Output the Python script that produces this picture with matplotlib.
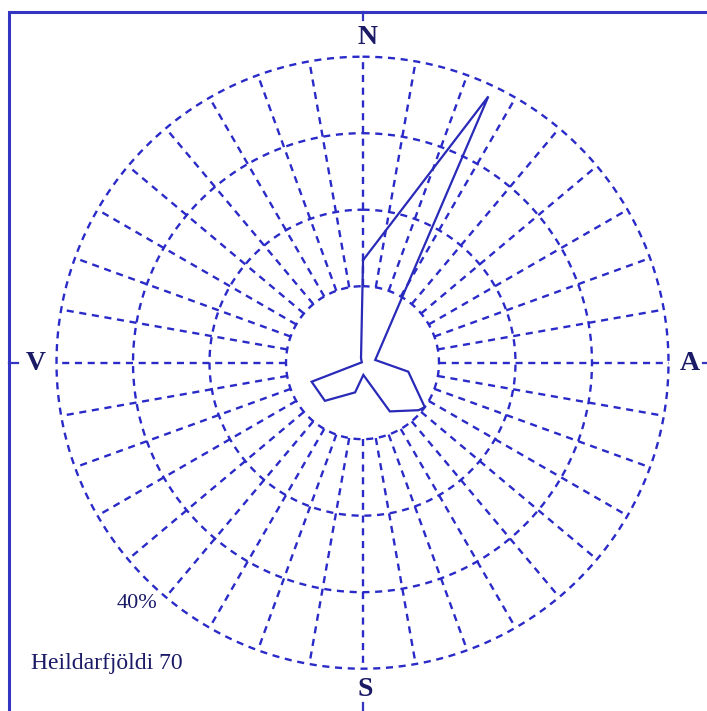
import numpy as np
import matplotlib
matplotlib.use("Agg")
import matplotlib.pyplot as plt
from matplotlib.patches import Rectangle
from matplotlib.lines import Line2D

# rose polygon: direction (deg from north, clockwise) and percent
rose_dir = [0.3, 25.3, 77.8, 101.1, 125.5, 130.3, 150.7, 176.0, 194.0, 224.6, 249.5, 300.0, 341.0]
rose_pct = [13.4, 38.5, 1.7, 6.1, 10.0, 9.6, 7.3, 1.6, 4.0, 7.0, 7.1, 0.1, 0.6]

rings = [10, 20, 30, 40]
spoke_step = 10
compass = ["N", "A", "S", "V"]
total_label = "Heildarfjöldi 70"
ring_label = "40%"

W, H = 707, 711
cx, cy, R = 362.5, 362.7, 306.0  # centre and outer ring in pixels

grid_col = "#2a2ac8"
line_col = "#2a2ab8"
text_col = "#1a1a66"


def fx(px):
    return px / W


def fy(py):
    return 1 - py / H


fig = plt.figure(figsize=(W / 100, H / 100), dpi=100)
fig.patch.set_facecolor("white")

ax = fig.add_axes([fx(cx - R), fy(cy + R), 2 * R / W, 2 * R / H], projection="polar")
ax.set_theta_zero_location("N")
ax.set_theta_direction(-1)
ax.set_axis_off()
ax.set_rlim(0, rings[-1])

dash = (0, (3, 2.4))
theta = np.linspace(0, 2 * np.pi, 721)
for r in rings:
    ax.plot(theta, np.full_like(theta, r), color=grid_col, lw=1.7, ls=dash, clip_on=False)
for a in range(0, 360, spoke_step):
    t = np.deg2rad(a)
    ax.plot([t, t], [rings[0], rings[-1]], color=grid_col, lw=1.7, ls=dash, clip_on=False)

# the rose itself
t = np.deg2rad(rose_dir + rose_dir[:1])
ax.plot(t, rose_pct + rose_pct[:1], color=line_col, lw=1.6, solid_joinstyle="miter", clip_on=False)

# frame with small ticks at the middle of each side
frame_col = "#3535c4"
fig.patches.append(Rectangle((fx(9), fy(716)), fx(713) - fx(9), fy(12) - fy(716),
                             transform=fig.transFigure, fill=False, ec=frame_col, lw=2.2))
for (x0, y0, x1, y1) in [(9, cy, 18, cy), (cx, 12, cx, 20), (703, cy, 713, cy), (cx, 703, cx, 716)]:
    fig.lines.append(Line2D([fx(x0), fx(x1)], [fy(y0), fy(y1)], transform=fig.transFigure,
                            color=frame_col, lw=1.6))

serif = ["Liberation Serif", "DejaVu Serif"]
kw = dict(color=text_col, family=serif, fontweight="bold", fontsize=20, ha="center", va="center")
fig.text(fx(368), fy(37), compass[0], **kw)
fig.text(fx(690), fy(363), compass[1], **kw)
fig.text(fx(365), fy(689), compass[2], **kw)
fig.text(fx(36), fy(363), compass[3], **kw)

fig.text(fx(137), fy(604), ring_label, color=text_col, family=serif, fontsize=16,
         ha="center", va="center")
fig.text(fx(31), fy(663), total_label, color=text_col, family=serif, fontsize=17,
         ha="left", va="center")

fig.savefig("out.png", dpi=100, facecolor="white")
